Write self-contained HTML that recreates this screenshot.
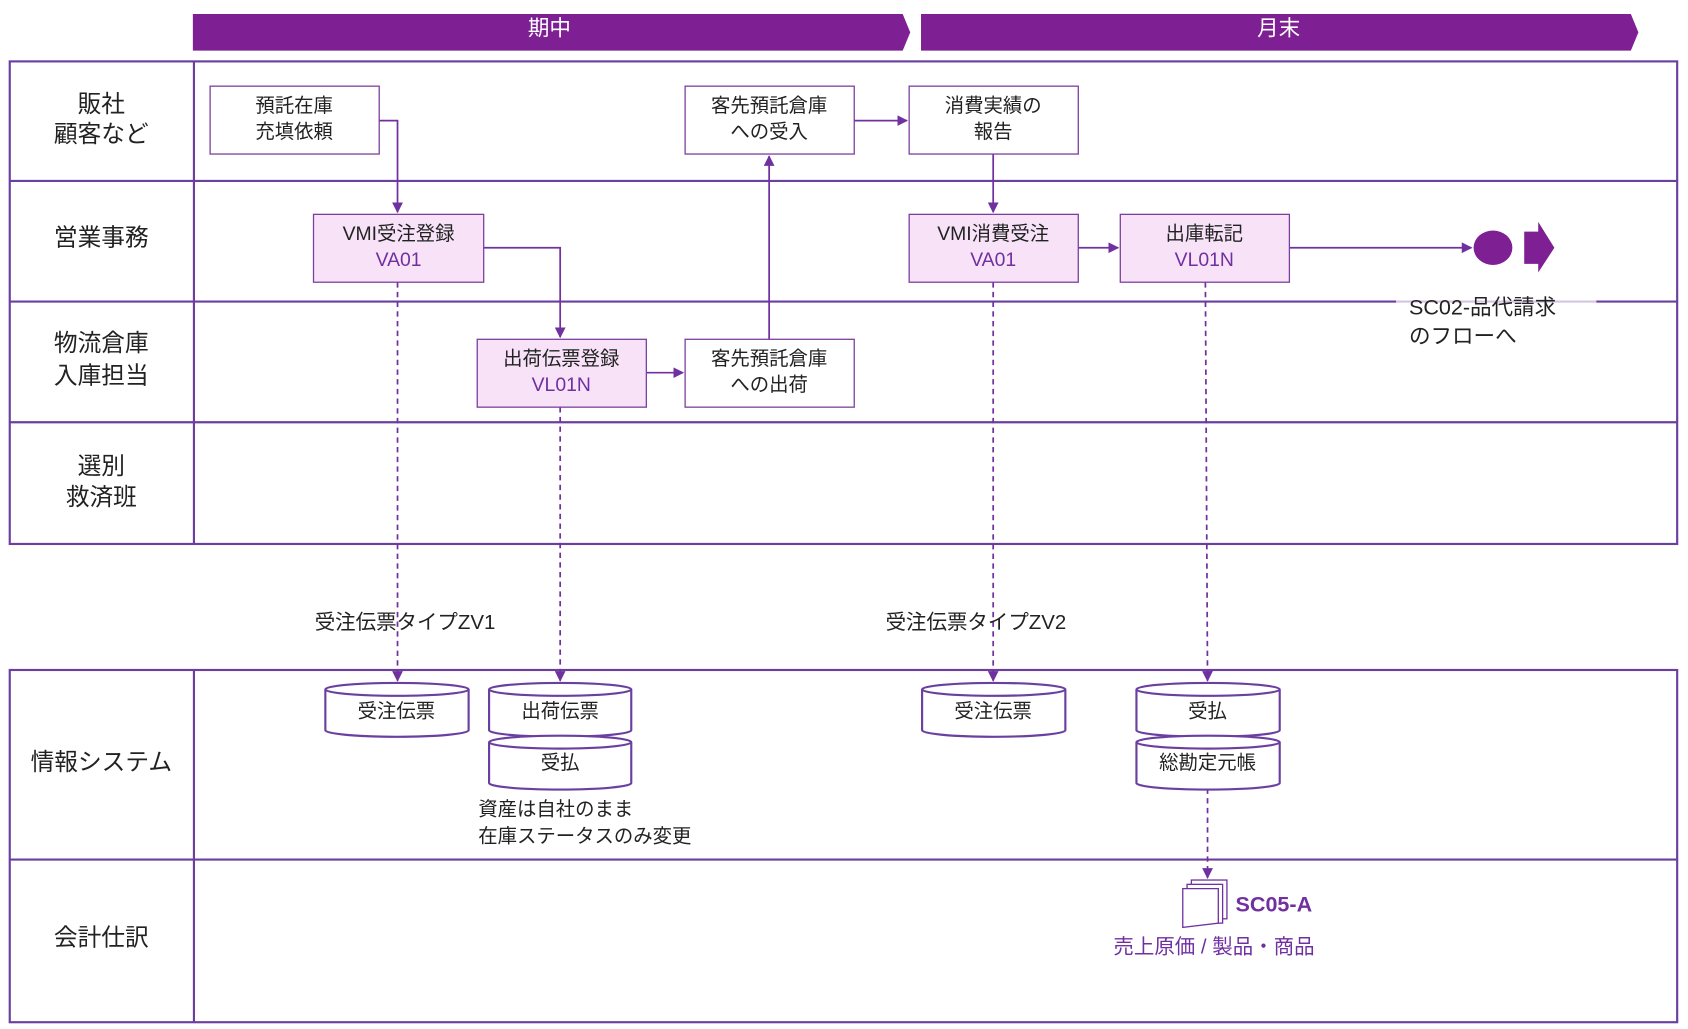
<!DOCTYPE html>
<html><head><meta charset="utf-8"><style>
html,body{margin:0;padding:0;background:#fff;}
svg{display:block;}
text{font-family:"Liberation Sans","Noto Sans CJK JP",sans-serif;}
</style></head><body>
<svg width="1688" height="1029" viewBox="0 0 1567 955.3" xmlns="http://www.w3.org/2000/svg">
<defs>
<marker id="a" markerWidth="10" markerHeight="10" refX="9" refY="5" orient="auto" markerUnits="userSpaceOnUse"><path d="M0,0 L10,5 L0,10 z" fill="#7030A0"/></marker>
</defs>
<!-- header -->
<polygon points="179,13 838,13 845,30 838,47 179,47" fill="#7E2094"/>
<polygon points="855,13 1514,13 1521,30 1514,47 855,47" fill="#7E2094"/>
<text x="510" y="33" font-size="20" fill="#fff" text-anchor="middle">期中</text>
<text x="1187" y="33" font-size="20" fill="#fff" text-anchor="middle">月末</text>
<!-- table 1 -->
<g stroke="#6B3FA0" stroke-width="2" fill="none">
<rect x="9" y="57" width="1548" height="448"/>
<line x1="180" y1="57" x2="180" y2="505"/>
<line x1="9" y1="168" x2="1557" y2="168"/>
<line x1="9" y1="280" x2="1557" y2="280"/>
<line x1="9" y1="392" x2="1557" y2="392"/>
<rect x="9" y="622" width="1548" height="327"/>
<line x1="180" y1="622" x2="180" y2="949"/>
<line x1="9" y1="798" x2="1557" y2="798"/>
</g>
<g font-size="22" fill="#222" text-anchor="middle">
<text x="94" y="104">販社</text><text x="94" y="132">顧客など</text>
<text x="94" y="228">営業事務</text>
<text x="94" y="326">物流倉庫</text><text x="94" y="356">入庫担当</text>
<text x="94" y="440">選別</text><text x="94" y="469">救済班</text>
<text x="94" y="715">情報システム</text>
<text x="94" y="878">会計仕訳</text>
</g>
<!-- connectors -->
<g stroke="#7030A0" stroke-width="1.6" fill="none">
<polyline points="352,112 369,112 369,197" marker-end="url(#a)"/>
<polyline points="449,230 520,230 520,313" marker-end="url(#a)"/>
<line x1="600" y1="346" x2="634" y2="346" marker-end="url(#a)"/>
<line x1="714" y1="315" x2="714" y2="145" marker-end="url(#a)"/>
<line x1="793" y1="112" x2="842" y2="112" marker-end="url(#a)"/>
<line x1="922" y1="143" x2="922" y2="197" marker-end="url(#a)"/>
<line x1="1001" y1="230" x2="1038" y2="230" marker-end="url(#a)"/>
<line x1="1197" y1="230" x2="1366" y2="230" marker-end="url(#a)"/>
<g stroke-dasharray="5,4">
<line x1="369" y1="262" x2="369" y2="632" marker-end="url(#a)"/>
<line x1="520" y1="378" x2="520" y2="632" marker-end="url(#a)"/>
<line x1="922" y1="262" x2="922" y2="632" marker-end="url(#a)"/>
<line x1="1119" y1="262" x2="1121" y2="632" marker-end="url(#a)"/>
<line x1="1121" y1="732" x2="1121" y2="815" marker-end="url(#a)"/>
</g>
</g>
<ellipse cx="1386" cy="230" rx="18" ry="16" fill="#7E2094"/>
<polygon points="1415,215 1428,215 1428,206 1443,230 1428,253 1428,245 1415,245" fill="#7E2094"/>
<rect x="1296" y="273" width="186" height="14" fill="#fff" opacity="0.7"/>
<g font-size="20" fill="#222"><text x="1308" y="292">SC02-品代請求</text><text x="1308" y="319">のフローへ</text></g>
<!-- boxes -->
<g stroke="#7B3F9E" stroke-width="1.2">
<rect x="195" y="80" width="157" height="63" fill="#fff"/>
<rect x="636" y="80" width="157" height="63" fill="#fff"/>
<rect x="844" y="80" width="157" height="63" fill="#fff"/>
<rect x="291" y="199" width="158" height="63" fill="#F7E2F8"/>
<rect x="844" y="199" width="157" height="63" fill="#F7E2F8"/>
<rect x="1040" y="199" width="157" height="63" fill="#F7E2F8"/>
<rect x="443" y="315" width="157" height="63" fill="#F7E2F8"/>
<rect x="636" y="315" width="157" height="63" fill="#fff"/>
</g>
<g font-size="18" text-anchor="middle" fill="#222">
<text x="273" y="104">預託在庫</text><text x="273" y="128">充填依頼</text>
<text x="714" y="104">客先預託倉庫</text><text x="714" y="128">への受入</text>
<text x="922" y="104">消費実績の</text><text x="922" y="128">報告</text>
<text x="370" y="223">VMI受注登録</text><text x="370" y="247" fill="#7030A0">VA01</text>
<text x="922" y="223">VMI消費受注</text><text x="922" y="247" fill="#7030A0">VA01</text>
<text x="1118" y="223">出庫転記</text><text x="1118" y="247" fill="#7030A0">VL01N</text>
<text x="521" y="339">出荷伝票登録</text><text x="521" y="363" fill="#7030A0">VL01N</text>
<text x="714" y="339">客先預託倉庫</text><text x="714" y="363">への出荷</text>
</g>
<g font-size="19" fill="#222" text-anchor="middle">
<text x="376" y="584">受注伝票タイプZV1</text>
<text x="906" y="584">受注伝票タイプZV2</text>
</g>
<!-- cylinders -->
<g stroke="#6B3FA0" stroke-width="2" fill="#fff">
<path d="M302,640 v38 a66.5,6 0 0 0 133,0 v-38 a66.5,6 0 0 0 -133,0 a66.5,6 0 0 0 133,0"/>
<path d="M454,640 v38 a66,6 0 0 0 132,0 v-38 a66,6 0 0 0 -132,0 a66,6 0 0 0 132,0"/>
<path d="M454,689 v38 a66,6 0 0 0 132,0 v-38 a66,6 0 0 0 -132,0 a66,6 0 0 0 132,0"/>
<path d="M856,640 v38 a66.5,6 0 0 0 133,0 v-38 a66.5,6 0 0 0 -133,0 a66.5,6 0 0 0 133,0"/>
<path d="M1055,640 v38 a66.5,6 0 0 0 133,0 v-38 a66.5,6 0 0 0 -133,0 a66.5,6 0 0 0 133,0"/>
<path d="M1055,689 v38 a66.5,6 0 0 0 133,0 v-38 a66.5,6 0 0 0 -133,0 a66.5,6 0 0 0 133,0"/>
</g>
<g font-size="18" fill="#222" text-anchor="middle">
<text x="368" y="666">受注伝票</text>
<text x="520" y="666">出荷伝票</text>
<text x="520" y="714">受払</text>
<text x="922" y="666">受注伝票</text>
<text x="1121" y="666">受払</text>
<text x="1121" y="714">総勘定元帳</text>
</g>
<g font-size="18" fill="#222"><text x="444" y="757">資産は自社のまま</text><text x="444" y="782">在庫ステータスのみ変更</text></g>
<!-- doc icon -->
<g stroke="#7030A0" stroke-width="1.2" fill="#fff">
<rect x="1106" y="817" width="33" height="36"/>
<rect x="1102" y="821" width="33" height="36"/>
<path d="M1098,825 h33 v32 q-16,2 -33,4 z"/>
</g>
<text x="1147" y="846" font-size="20" font-weight="bold" fill="#7030A0">SC05-A</text>
<text x="1127" y="885" font-size="19" fill="#7030A0" text-anchor="middle">売上原価 / 製品・商品</text>
</svg>
</body></html>
